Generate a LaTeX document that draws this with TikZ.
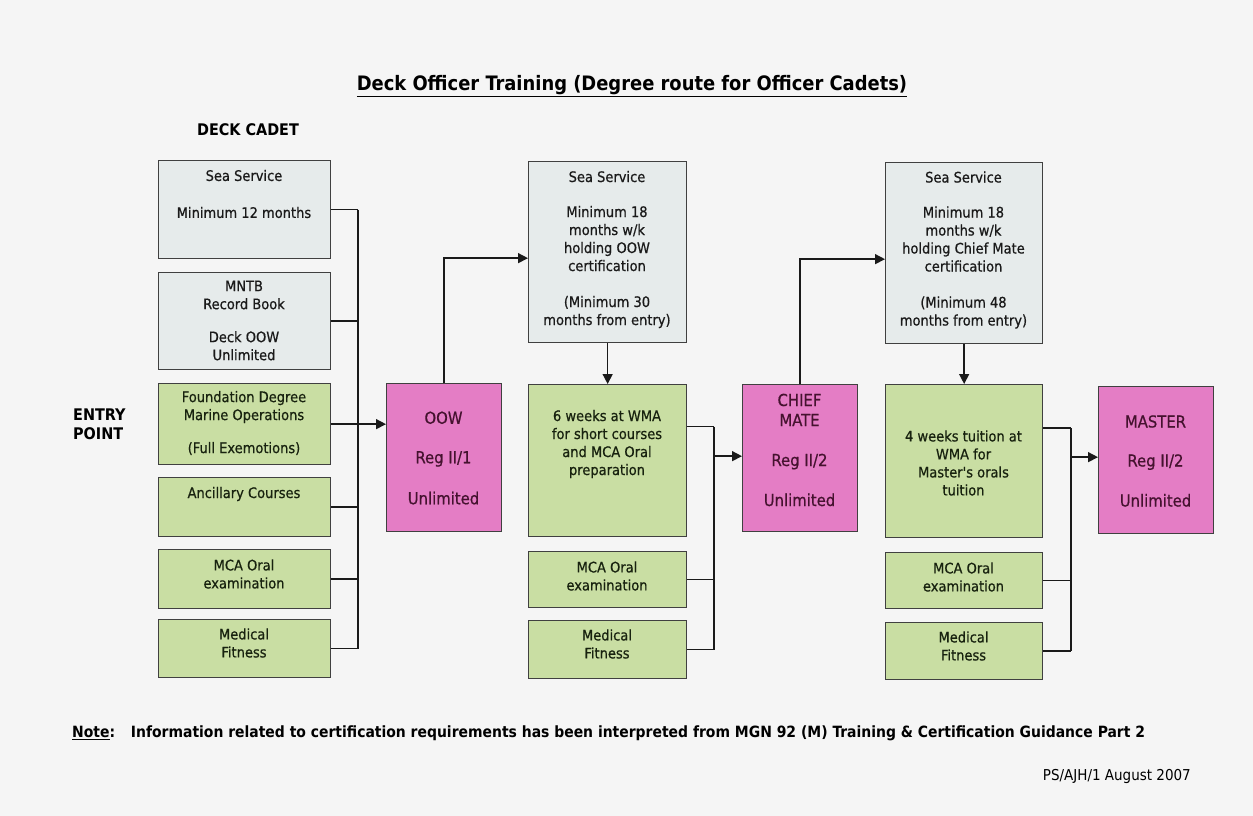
\documentclass[tikz,border=0pt]{standalone}
\usepackage{fontspec}
\setmainfont{DejaVu Sans Condensed}
\newfontfamily\boxfont{DejaVu Sans Condensed}[FakeBold=0.6]
\usetikzlibrary{arrows.meta}
\definecolor{bgc}{HTML}{F5F5F5}
\definecolor{grayc}{HTML}{E6EBEB}
\definecolor{greenc}{HTML}{C9DEA3}
\definecolor{pinkc}{HTML}{E47DC5}
\definecolor{bordc}{HTML}{404040}
\definecolor{txtc}{HTML}{1A1A1A}
\definecolor{gtxtc}{HTML}{18220F}
\definecolor{ptxtc}{HTML}{45122F}
\definecolor{linec}{HTML}{1A1A1A}
\newcommand\bx[8]{%
  \node[#2, minimum width={#5-#3}, minimum height={#6-#4}] (#1) at (#3,#4) {};
  \node[#2t] (#1t) at ({(#3+#5)/2},#7) {#8};}
\begin{document}
\begin{tikzpicture}[x=1pt,y=-1pt,
  box/.style={draw=bordc, line width=1.3pt, inner sep=0pt, anchor=north west},
  gbox/.style={box, fill=grayc},
  grbox/.style={box, fill=greenc},
  pbox/.style={box, fill=pinkc},
  gboxt/.style={align=center, inner sep=0pt, text=txtc, font=\boxfont\fontsize{14.5}{18}\selectfont},
  grboxt/.style={align=center, inner sep=0pt, text=gtxtc, font=\boxfont\fontsize{14.5}{18}\selectfont},
  pboxt/.style={align=center, inner sep=0pt, text=ptxtc, font=\boxfont\fontsize{16.5}{20}\selectfont},
  conn/.style={line width=1.4pt, draw=linec},
  arr/.style={conn, -{Triangle[length=10pt,width=10pt]}},
  lbl/.style={inner sep=0pt, text=black}]
\fill[bgc] (0,0) rectangle (1253,816);
\useasboundingbox (0,0) rectangle (1253,816);

% titles
\node[lbl, font=\fontsize{19.9}{22}\selectfont\bfseries] (title) at (632,86) {\underline{Deck Officer Training (Degree route for Officer Cadets)}};
\node[lbl, font=\fontsize{16}{19}\selectfont\bfseries] (cadet) at (248,130) {DECK CADET};
\node[lbl, font=\fontsize{16}{19}\selectfont\bfseries, align=left, anchor=west] (entry) at (73,424) {ENTRY\\POINT};

% left column
\bx{ss1}{gbox}{158}{160}{330}{258}{194}{Sea Service\\[19pt]Minimum 12 months}
\bx{mntb}{gbox}{158}{272}{330}{369}{320.5}{MNTB\\Record Book\\[15pt]Deck OOW\\Unlimited}
\bx{found}{grbox}{158}{383}{330}{464}{423}{Foundation Degree\\Marine Operations\\[15pt](Full Exemotions)}
\bx{anc}{grbox}{158}{477}{330}{536}{494}{Ancillary Courses}
\bx{mca1}{grbox}{158}{549}{330}{608}{574}{MCA Oral\\examination}
\bx{med1}{grbox}{158}{619}{330}{677}{643}{Medical\\Fitness}

\bx{oow}{pbox}{386}{383}{501}{531}{458}{OOW\\[19.5pt]Reg II/1\\[21pt]Unlimited}

% middle column
\bx{ss2}{gbox}{528}{161}{686}{342}{249.5}{Sea Service\\[17pt]Minimum 18\\months w/k\\holding OOW\\certification\\[18pt](Minimum 30\\months from entry)}
\bx{six}{grbox}{528}{384}{686}{536}{444}{6 weeks at WMA\\for short courses\\and MCA Oral\\preparation}
\bx{mca2}{grbox}{528}{551}{686}{607}{576}{MCA Oral\\examination}
\bx{med2}{grbox}{528}{620}{686}{678}{644}{Medical\\Fitness}

\bx{chief}{pbox}{742}{384}{857}{531}{450}{CHIEF\\MATE\\[20pt]Reg II/2\\[20pt]Unlimited}

% right column
\bx{ss3}{gbox}{885}{162}{1042}{343}{250}{Sea Service\\[17pt]Minimum 18\\months w/k\\holding Chief Mate\\certification\\[18pt](Minimum 48\\months from entry)}
\bx{four}{grbox}{885}{384}{1042}{537}{463}{4 weeks tuition at\\WMA for\\Master's orals\\tuition}
\bx{mca3}{grbox}{885}{552}{1042}{608}{577}{MCA Oral\\examination}
\bx{med3}{grbox}{885}{622}{1042}{679}{646}{Medical\\Fitness}

\bx{master}{pbox}{1098}{386}{1213}{533}{461}{MASTER\\[19pt]Reg II/2\\[20pt]Unlimited}

% bus coordinates
\coordinate (bus1) at (358,0);
\coordinate (bus2) at (714,0);
\coordinate (bus3) at (1071,0);

% left connectors
\foreach \n in {ss1,mntb,anc,mca1,med1} \draw[conn] (\n.east) -- (\n.east -| bus1);
\draw[conn] (ss1.east -| bus1) -- (med1.east -| bus1);
\draw[arr] (found.east) -- (found.east -| oow.west);
\draw[arr] (oow.north) |- ([yshift=-6pt]ss2.west);

% middle connectors
\draw[arr] (ss2.south -| six.north) -- (six.north);
\draw[conn] ([yshift=34pt]six.east) -- ([yshift=34pt]six.east -| bus2);
\foreach \n in {mca2,med2} \draw[conn] (\n.east) -- (\n.east -| bus2);
\draw[conn] ([yshift=34pt]six.east -| bus2) -- (med2.east -| bus2);
\draw[arr] ([yshift=2pt]chief.west -| bus2) -- ([yshift=2pt]chief.west);
\draw[arr] (chief.north) |- ([yshift=-6pt]ss3.west);

% right connectors
\draw[arr] (ss3.south -| four.north) -- (four.north);
\draw[conn] ([yshift=33pt]four.east) -- ([yshift=33pt]four.east -| bus3);
\foreach \n in {mca3,med3} \draw[conn] (\n.east) -- (\n.east -| bus3);
\draw[conn] ([yshift=33pt]four.east -| bus3) -- (med3.east -| bus3);
\draw[arr] ([yshift=3pt]master.west -| bus3) -- ([yshift=3pt]master.west);

% note and reference
\node[lbl, anchor=west, font=\fontsize{15.5}{18}\selectfont\bfseries] (note) at (72,733) {\underline{Note}:\hspace{0.6em} Information related to certification requirements has been interpreted from MGN 92 (M) Training \& Certification Guidance Part 2};
\node[lbl, anchor=east, font=\fontsize{15}{18}\selectfont] (ref) at (1191,776) {PS/AJH/1 August 2007};
\end{tikzpicture}
\end{document}
